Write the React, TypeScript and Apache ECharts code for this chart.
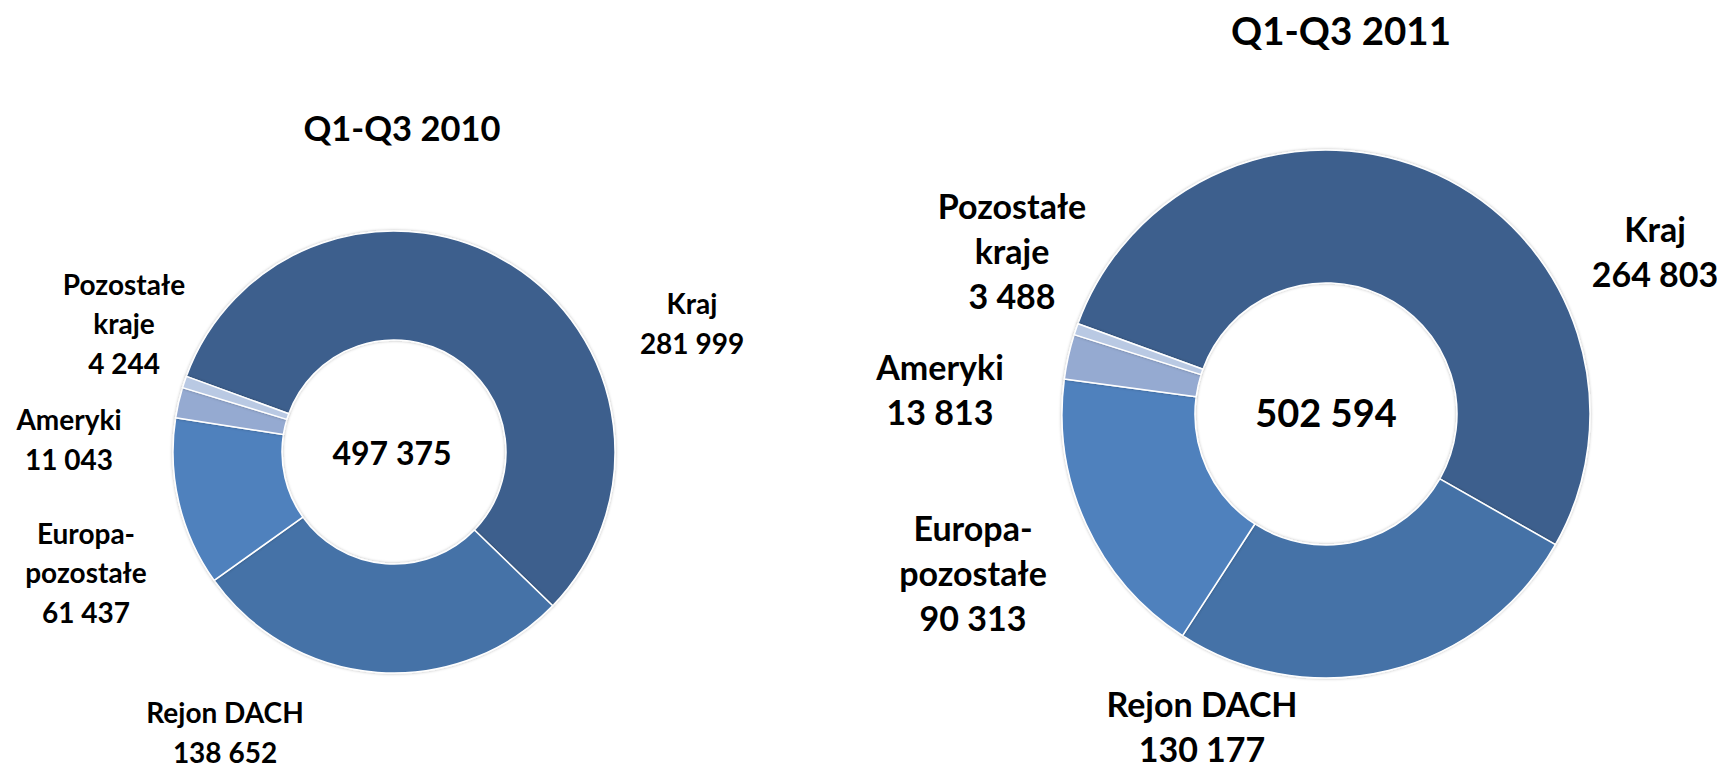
import React, { useEffect, useRef } from "react";
import * as echarts from "echarts";

const categories = ["Kraj", "Rejon DACH", "Europa-\npozostałe", "Ameryki", "Pozostałe\nkraje"];
const values2010 = [281999, 138652, 61437, 11043, 4244];
const values2011 = [264803, 130177, 90313, 13813, 3488];
const titles = ["Q1-Q3 2010", "Q1-Q3 2011"];
const colors = ["#3C5F8D", "#4572A7", "#4F81BD", "#95AAD1", "#B9C9E3"];

const fmt = (v: number) => String(v).replace(/\B(?=(\d{3})+(?!\d))/g, " ");
const sum = (a: number[]) => a.reduce((s, v) => s + v, 0);

const FONT = "Lato, 'Open Sans', sans-serif";

// label block centres per slice (layout only)
const labelPos2010 = [
  [692, 323],
  [225, 732],
  [86, 572],
  [69, 439],
  [124, 323],
];
const labelPos2011 = [
  [1655, 251],
  [1202, 726],
  [973, 572],
  [940, 389],
  [1012, 250],
];

export default function App() {
  const ref = useRef<HTMLDivElement>(null);
  useEffect(() => {
    if (!ref.current) return;
    const chart = echarts.init(ref.current, undefined, { renderer: "svg" });

    const mkSeries = (
      values: number[],
      center: [number, number],
      radius: [number, number],
      fontSize: number,
      lineHeight: number,
      pos: number[][]
    ) => ({
      type: "pie",
      center,
      radius,
      startAngle: 160,
      clockwise: true,
      avoidLabelOverlap: false,
      itemStyle: {
        borderColor: "#ffffff",
        borderWidth: 1.5,
        shadowBlur: 3,
        shadowColor: "rgba(0,0,0,0.28)",
      },
      emphasis: { disabled: true },
      label: {
        show: true,
        position: "outside",
        formatter: (p: any) => `${p.name}\n${fmt(p.value)}`,
        fontFamily: FONT,
        fontWeight: "bold",
        fontSize,
        lineHeight,
        color: "#000",
        align: "center",
      },
      labelLine: { show: false },
      labelLayout: (p: any) => ({
        x: pos[p.dataIndex][0],
        y: pos[p.dataIndex][1],
        align: "center",
        verticalAlign: "middle",
      }),
      data: categories.map((c, i) => ({
        name: c,
        value: values[i],
        itemStyle: { color: colors[i] },
      })),
    });

    chart.setOption({
      animation: false,
      backgroundColor: "#ffffff",
      series: [
        mkSeries(values2010, [394, 452], [112, 221], 28, 39.5, labelPos2010),
        mkSeries(values2011, [1326, 414], [131, 264], 34, 45, labelPos2011),
      ],
      graphic: [
        {
          type: "text",
          x: 402,
          y: 127,
          style: {
            text: titles[0],
            fontFamily: FONT,
            fontWeight: "bold",
            fontSize: 34.5,
            fill: "#000",
            align: "center",
            verticalAlign: "middle",
          },
        },
        {
          type: "text",
          x: 1341,
          y: 30,
          style: {
            text: titles[1],
            fontFamily: FONT,
            fontWeight: "bold",
            fontSize: 38.5,
            fill: "#000",
            align: "center",
            verticalAlign: "middle",
          },
        },
        {
          type: "text",
          x: 392,
          y: 452,
          style: {
            text: fmt(sum(values2010)),
            fontFamily: FONT,
            fontWeight: "bold",
            fontSize: 32,
            fill: "#000",
            align: "center",
            verticalAlign: "middle",
          },
        },
        {
          type: "text",
          x: 1326,
          y: 412,
          style: {
            text: fmt(sum(values2011)),
            fontFamily: FONT,
            fontWeight: "bold",
            fontSize: 38,
            fill: "#000",
            align: "center",
            verticalAlign: "middle",
          },
        },
      ],
    });
    return () => chart.dispose();
  }, []);
  return (
    <div
      ref={ref}
      style={{ position: "fixed", left: 0, top: 0, width: 1717, height: 765 }}
    />
  );
}
